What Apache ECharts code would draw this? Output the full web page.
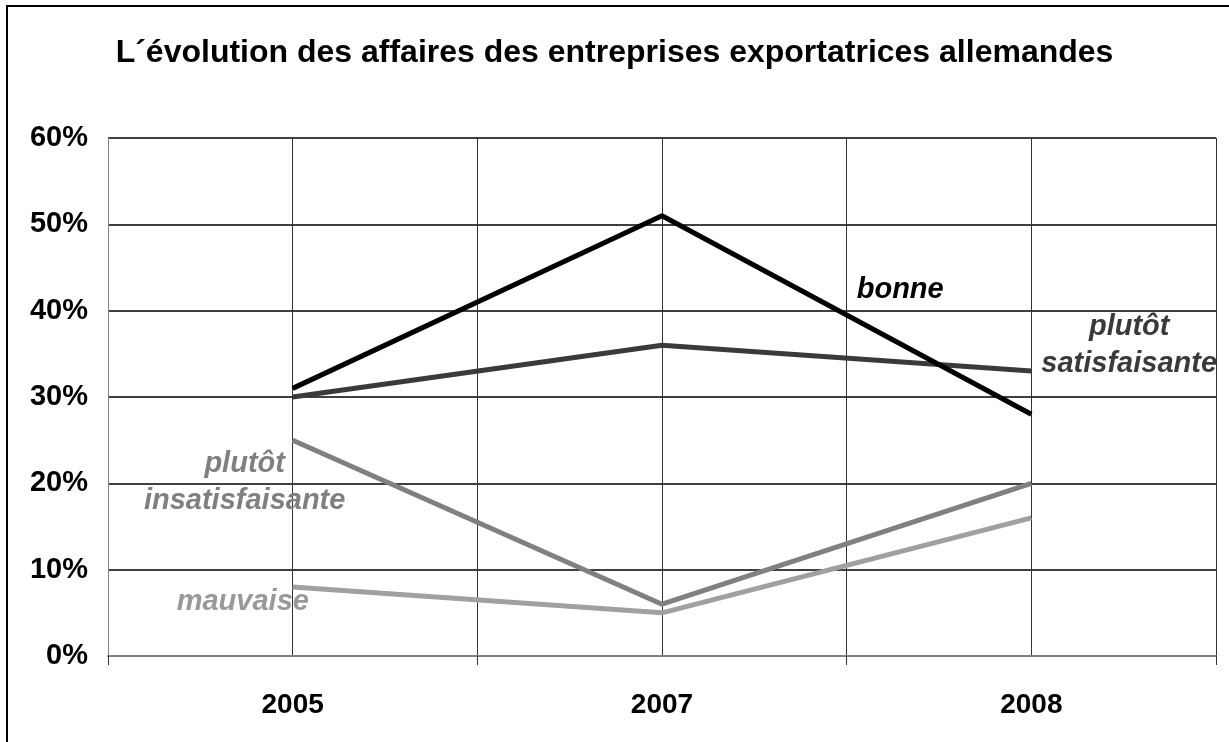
<!DOCTYPE html>
<html>
<head>
<meta charset="utf-8">
<script src="https://cdn.jsdelivr.net/npm/echarts@6/dist/echarts.min.js"></script>
<style>
html,body{margin:0;padding:0;background:#fff;}
#chart{width:1229px;height:742px;}
</style>
</head>
<body>
<div id="chart"></div>
<script>
// ---- data ----
const years = ['2005', '2007', '2008'];
const bonne = [31, 51, 28];
const plutotSatisfaisante = [30, 36, 33];
const plutotInsatisfaisante = [25, 6, 20];
const mauvaise = [8, 5, 16];
const yTicks = [0, 10, 20, 30, 40, 50, 60];
const titleText = 'L\u00B4\u00E9volution des affaires des entreprises exportatrices allemandes';

// each year sits at the centre of its category slot (slots are 2 units wide)
function toPoints(vals) { return vals.map((v, i) => [2 * i + 1, v]); }

const font = 'Liberation Sans, Arial, sans-serif';
const lblBase = { fontFamily: font, fontWeight: 'bold', fontStyle: 'italic', fontSize: 29, lineHeight: 37, align: 'center' };

function notePoint(coord, text, color) {
  return {
    coord: coord, symbol: 'circle', symbolSize: 0,
    label: Object.assign({ show: true, position: 'inside', formatter: text, color: color }, lblBase)
  };
}

const chart = echarts.init(document.getElementById('chart'), null, { renderer: 'canvas' });
chart.setOption({
  animation: false,
  backgroundColor: '#fff',
  title: {
    text: titleText, left: 'center', top: 32,
    textStyle: { fontFamily: font, fontWeight: 'bold', fontSize: 32, color: '#000' }
  },
  graphic: [{
    type: 'rect', shape: { x: 7, y: 6, width: 1400, height: 900 },
    style: { fill: 'none', stroke: '#000', lineWidth: 2 }, silent: true, z: 100
  }],
  grid: { left: 108, right: 13, top: 138, bottom: 86, containLabel: false },
  xAxis: [{
    type: 'value', min: 0, max: 6, interval: 1,
    axisLine: { show: true, lineStyle: { color: '#808080', width: 2 } },
    axisTick: { show: false },
    splitLine: { show: true, lineStyle: { color: '#333', width: 1 } },
    axisLabel: {
      margin: 35, fontFamily: font, fontWeight: 'bold', fontSize: 28, color: '#000',
      formatter: v => (v % 2 === 1 ? years[(v - 1) / 2] : '')
    }
  }, {
    type: 'value', min: 0, max: 6, interval: 2, position: 'bottom',
    axisLine: { show: false }, splitLine: { show: false }, axisLabel: { show: false },
    axisTick: { show: true, inside: false, length: 9, lineStyle: { color: '#333', width: 1 } }
  }],
  yAxis: {
    type: 'value', min: 0, max: 60, interval: 10,
    axisLine: { show: true, lineStyle: { color: '#808080', width: 1 } },
    axisTick: { show: false },
    splitLine: { show: true, lineStyle: { color: '#000', width: 1.5 } },
    axisLabel: {
      margin: 20, fontFamily: font, fontWeight: 'bold', fontSize: 29, color: '#000',
      formatter: '{value}%'
    }
  },
  series: [
    {
      name: 'bonne', type: 'line', data: toPoints(bonne), symbol: 'none',
      lineStyle: { color: '#000', width: 5 }, z: 5,
      markPoint: { data: [notePoint([4.29, 42.4], 'bonne', '#000')] }
    },
    {
      name: 'plutôt satisfaisante', type: 'line', data: toPoints(plutotSatisfaisante), symbol: 'none',
      lineStyle: { color: '#3a3a3a', width: 5 }, z: 4,
      markPoint: { data: [notePoint([5.53, 35.95], 'plutôt\nsatisfaisante', '#3a3a3a')] }
    },
    {
      name: 'plutôt insatisfaisante', type: 'line', data: toPoints(plutotInsatisfaisante), symbol: 'none',
      lineStyle: { color: '#808080', width: 5 }, z: 3,
      markPoint: { data: [notePoint([0.74, 20.05], 'plutôt\ninsatisfaisante', '#808080')] }
    },
    {
      name: 'mauvaise', type: 'line', data: toPoints(mauvaise), symbol: 'none',
      lineStyle: { color: '#a0a0a0', width: 5 }, z: 2,
      markPoint: { data: [notePoint([0.73, 6.3], 'mauvaise', '#999999')] }
    }
  ]
});
</script>
</body>
</html>
